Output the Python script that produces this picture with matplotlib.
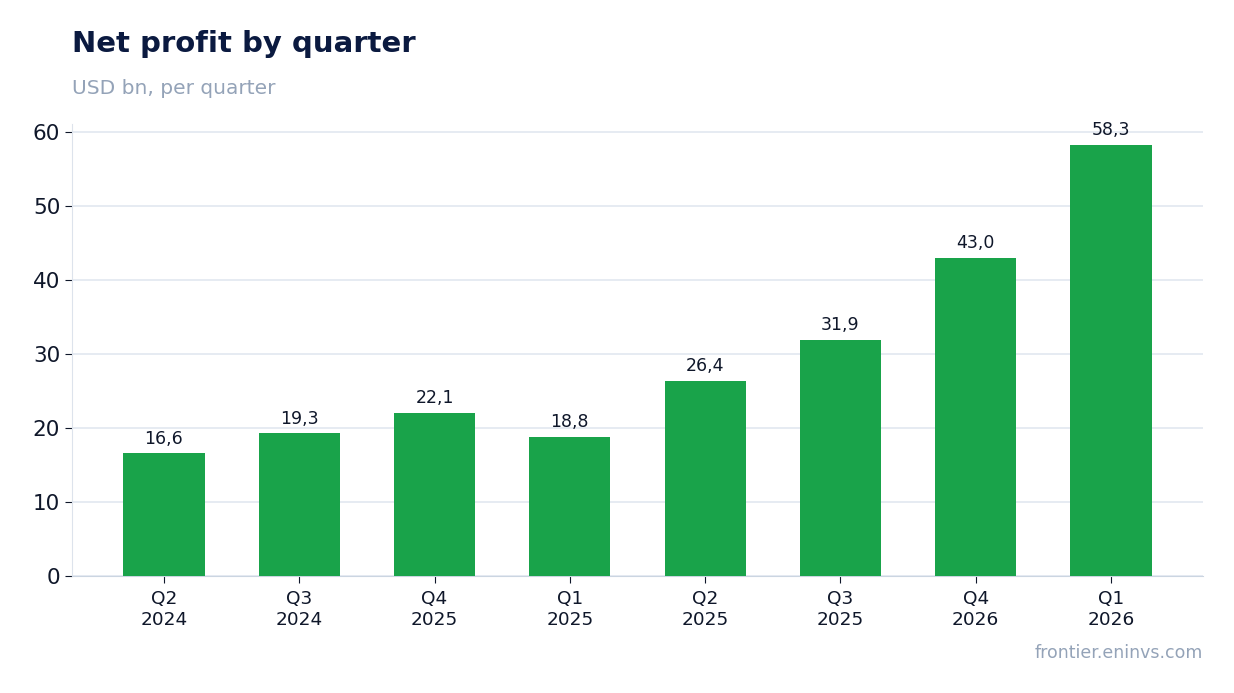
import matplotlib
matplotlib.use("Agg")
import matplotlib.pyplot as plt

categories = ["Q2\n2024", "Q3\n2024", "Q4\n2025", "Q1\n2025", "Q2\n2025", "Q3\n2025", "Q4\n2026", "Q1\n2026"]
values = [16.6, 19.3, 22.1, 18.8, 26.4, 31.9, 43.0, 58.3]
value_labels = ["16,6", "19,3", "22,1", "18,8", "26,4", "31,9", "43,0", "58,3"]
yticks = [0, 10, 20, 30, 40, 50, 60]

plt.rcParams['font.family'] = ['DejaVu Sans']
fig = plt.figure(figsize=(12.34, 6.93), dpi=100)
ax = fig.add_axes([72/1234, 1-576/693, (1203-72)/1234, (576-124)/693])

green = "#19a34a"
dark = "#0f172a"
grid_c = "#e2e8f0"

x = list(range(len(values)))
ax.bar(x, values, width=0.6, color=green, zorder=3)
for xi, v, lab in zip(x, values, value_labels):
    ax.annotate(lab, (xi, v), xytext=(0, 4), textcoords="offset points",
                ha="center", va="bottom", fontsize=12.5, color=dark)

ax.set_xlim(-0.68, len(values) - 0.32)
ax.set_ylim(0, 61.1)
ax.set_yticks(yticks)
ax.set_xticks(x)
ax.set_xticklabels(categories, fontsize=13.3, color=dark)
ax.tick_params(axis="y", labelsize=15.5, colors=dark, length=5, color=dark)
ax.tick_params(axis="x", length=5, color=dark, pad=5)
ax.yaxis.grid(True, color=grid_c, linewidth=1.2, zorder=0)
ax.set_axisbelow(True)
for s in ["top", "right"]:
    ax.spines[s].set_visible(False)
ax.spines["left"].set_color("#dde3ec")
ax.spines["bottom"].set_color("#cbd5e1")

fig.text(72/1234, 1-52/693, "Net profit by quarter", fontsize=21, fontweight="bold",
         color="#0b1a40", ha="left", va="baseline")
fig.text(72/1234, 1-94/693, "USD bn, per quarter", fontsize=14.5, color="#94a3b8",
         ha="left", va="baseline")
fig.text(1203/1234, 1-658/693, "frontier.eninvs.com", fontsize=12.5, color="#94a3b8",
         ha="right", va="baseline")

fig.savefig("out.png", dpi=100)
